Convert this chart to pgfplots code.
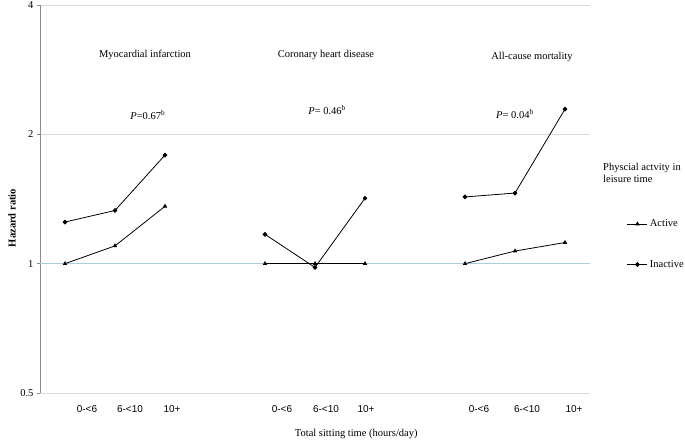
\documentclass[border=0pt]{standalone}
\usepackage{fontspec}
\setmainfont{Liberation Serif}
\setsansfont{Liberation Sans}
\usepackage{pgfplots}
\pgfplotsset{compat=1.18}
\definecolor{gridgray}{RGB}{217,217,217}
\definecolor{gridblue}{RGB}{172,204,228}
\definecolor{axgray}{RGB}{140,140,140}
\begin{document}
\begin{tikzpicture}
\path[use as bounding box] (-40pt,-47pt) rectangle (645pt,393pt);
\begin{axis}[
 at={(0,0)}, anchor=south west,
 scale only axis, width=550pt, height=388pt,
 xmin=0.5, xmax=11.5,
 ymode=log, log basis y=2, ymin=0.5, ymax=4,
 ytick={0.5,2,4}, yticklabels={0.5,2,4},
 extra y ticks={1}, extra y tick labels={1},
 extra y tick style={grid=none},
 ymajorgrids, major grid style={gridgray, line width=0.6pt},
 axis y line=left, axis x line=bottom,
 axis line style={-},
 y axis line style={axgray, line width=0.7pt},
 x axis line style={draw=none},
 xtick={1.44,2.3,3.14,5.34,6.22,7.02,9.28,10.24,11.18},
 xticklabels={0-<6,6-<10,10+,0-<6,6-<10,10+,0-<6,6-<10,10+},
 xtick style={draw=none},
 x tick label style={font=\sffamily\fontsize{10}{12}\selectfont, yshift=-6pt},
 ytick style={axgray, line width=0.6pt}, major tick length=3pt, tick align=outside,
 y tick label style={font=\fontsize{10.5}{12}\selectfont},
 ylabel={\textbf{Hazard ratio}},
 ylabel style={at={(axis description cs:-0.051,0.451)}, anchor=center, font=\fontsize{10.5}{12}\selectfont},
 xlabel={Total sitting time (hours/day)},
 xlabel style={at={(axis description cs:0.575,-0.106)}, anchor=center, font=\fontsize{10.5}{12}\selectfont},
 clip=false,
 legend style={draw=none, fill=none, at={(axis description cs:1.067,0.452)}, anchor=north west,
   font=\fontsize{10.5}{12}\selectfont, row sep=28pt, inner sep=0pt},
 legend cell align=left,
 legend image code/.code={\draw[mark repeat=2,mark phase=2,#1] plot coordinates {(0pt,0pt)(10pt,0pt)(20pt,0pt)};},
]
\draw[gridblue, line width=0.7pt] (axis cs:0.5,1) -- (axis cs:11.5,1);
\addplot[black, line width=0.8pt, mark=triangle*, mark size=1.8pt] coordinates {(1,1)(2,1.10)(3,1.36)};
\addlegendentry{Active}
\addplot[black, line width=0.8pt, mark=*, mark size=1.9pt] coordinates {(1,1.25)(2,1.33)(3,1.79)};
\addlegendentry{Inactive}
\addplot[black, line width=0.8pt, mark=triangle*, mark size=1.8pt, forget plot] coordinates {(5,1)(6,1)(7,1)};
\addplot[black, line width=0.8pt, mark=*, mark size=1.9pt, forget plot] coordinates {(5,1.17)(6,0.98)(7,1.42)};
\addplot[black, line width=0.8pt, mark=triangle*, mark size=1.8pt, forget plot] coordinates {(9,1)(10,1.07)(11,1.12)};
\addplot[black, line width=0.8pt, mark=*, mark size=1.9pt, forget plot] coordinates {(9,1.43)(10,1.46)(11,2.29)};
\begin{scope}[font=\fontsize{10.5}{12}\selectfont]
\node at (axis description cs:0.191,0.871) {Myocardial infarction};
\node at (axis description cs:0.520,0.871) {Coronary heart disease};
\node at (axis description cs:0.8945,0.866) {All-cause mortality};
\node at (axis description cs:0.196,0.7165) {\textit{P}=0.67\textsuperscript{b}};
\node at (axis description cs:0.522,0.729) {\textit{P}= 0.46\textsuperscript{b}};
\node at (axis description cs:0.8636,0.719) {\textit{P}= 0.04\textsuperscript{b}};
\node[anchor=north west, align=left, inner sep=0pt] at (axis description cs:1.0236,0.593) {Physcial actvity in\\leisure time};
\end{scope}
\end{axis}
\end{tikzpicture}
\end{document}
